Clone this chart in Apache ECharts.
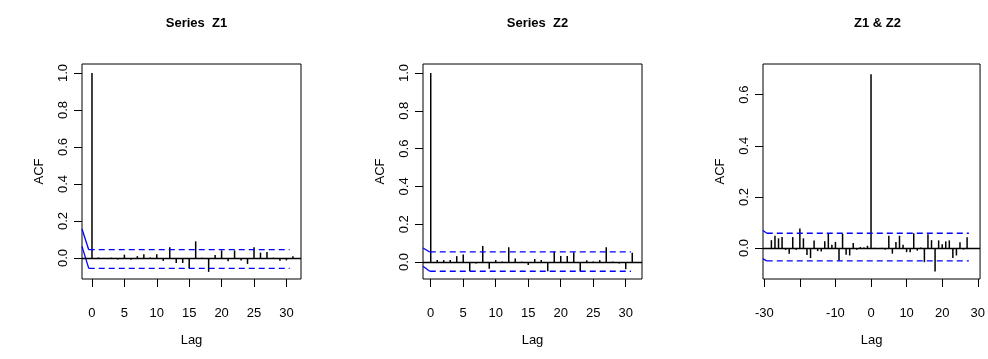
<!DOCTYPE html>
<html>
<head>
<meta charset="utf-8">
<title>ACF of Z1 and Z2</title>
<script src="https://cdn.jsdelivr.net/npm/echarts@6/dist/echarts.min.js"></script>
<style>
  html, body { margin: 0; padding: 0; background: #fff; }
  #chart { width: 988px; height: 359px; }
</style>
</head>
<body>
<div id="chart"></div>
<script>
// Autocorrelation of Z1 and Z2 (lags 0..31) and cross-correlation Z1 & Z2 (lags -28..28)
const lagsZ1 = Array.from({ length: 32 }, (_, i) => i);
const acfZ1 = [1.0, 0.003, -0.004, 0.002, -0.008, 0.018, -0.010, 0.010, 0.020, 0.003,
  0.020, -0.016, 0.058, -0.027, -0.027, -0.056, 0.090, 0.002, -0.075, 0.016,
  0.041, -0.017, 0.041, -0.013, -0.032, 0.058, 0.029, 0.032, 0.002, -0.015,
  -0.013, 0.009];

const lagsZ2 = Array.from({ length: 32 }, (_, i) => i);
const acfZ2 = [1.0, 0.010, 0.010, 0.010, 0.031, 0.040, -0.049, -0.008, 0.085, -0.036,
  0.010, 0.002, 0.078, 0.018, 0.002, -0.016, 0.016, 0.010, -0.049, 0.055,
  0.032, 0.032, 0.051, -0.049, 0.009, 0.002, 0.010, 0.078, 0.002, -0.008,
  -0.038, 0.049];

const lagsZ12 = Array.from({ length: 57 }, (_, i) => i - 28);
const ccfZ12 = [0.031, 0.048, 0.038, 0.043, -0.007, -0.022, 0.043, -0.007, 0.077, 0.038,
  -0.027, -0.039, 0.030, -0.012, -0.013, 0.027, 0.057, 0.013, 0.024, -0.050,
  0.056, -0.026, -0.029, 0.020, -0.007, 0.004, 0.002, 0.009,
  0.680,
  0.001, -0.001, 0.001, -0.006, 0.048, -0.022, 0.024, 0.048, 0.013, -0.016,
  -0.016, 0.058, -0.010, 0.002, -0.055, 0.054, 0.031, -0.092, 0.030, 0.015,
  0.026, 0.030, -0.039, -0.029, 0.023, -0.006, 0.042, -0.004];

// Confidence bounds per panel: Z1, Z2, Z1 & Z2
const ciUpper = [0.045, 0.053, 0.058];
const ciLower = [-0.056, -0.049, -0.050];
const ciUpperLead = [0.157, 0.074, 0.069];
const ciLowerLead = [0.063, -0.023, -0.042];
const ciBendLag = [-0.5, -0.15, -29.3];
const ciEndLag = [30.5, 30.8, 27.5];

// Axis extents per panel
const xMin = [-1.54, -1.19, -30.36];
const xMax = [32.25, 32.5, 30.64];
const yMin = [-0.1135, -0.09, -0.121];
const yMax = [1.0486, 1.0476, 0.72];

// Tick positions and labels
const xTicks = [[0, 5, 10, 15, 20, 25, 30], [0, 5, 10, 15, 20, 25, 30], [-30, -20, -10, 0, 10, 20, 30]];
const xTickLabels = [[0, 5, 10, 15, 20, 25, 30], [0, 5, 10, 15, 20, 25, 30], [-30, -10, 0, 10, 20, 30]];
const yTicks = [[0, 0.2, 0.4, 0.6, 0.8, 1.0], [0, 0.2, 0.4, 0.6, 0.8, 1.0], [0, 0.2, 0.4, 0.6]];

const titles = ['Series  Z1', 'Series  Z2', 'Z1 & Z2'];
const gridLeft = [82, 423, 763];
const gridWidth = 219;

const FONT = 'Liberation Sans, Arial, Helvetica, sans-serif';
const panels = [
  { lags: lagsZ1, vals: acfZ1 },
  { lags: lagsZ2, vals: acfZ2 },
  { lags: lagsZ12, vals: ccfZ12 }
];

const grid = [], xAxis = [], yAxis = [], series = [], title = [];

panels.forEach((p, i) => {
  grid.push({
    left: gridLeft[i], top: 64, width: gridWidth, height: 215,
    show: true, borderColor: '#000', borderWidth: 1, backgroundColor: 'transparent'
  });
  title.push({
    text: titles[i],
    left: gridLeft[i] + gridWidth / 2,
    top: 12,
    textAlign: 'center',
    textStyle: { fontFamily: FONT, fontSize: 13, fontWeight: 'bold', color: '#000' }
  });
  xAxis.push({
    type: 'value', gridIndex: i, min: xMin[i], max: xMax[i],
    position: 'bottom',
    name: 'Lag', nameLocation: 'middle', nameGap: 55,
    nameTextStyle: { fontFamily: FONT, fontSize: 13, color: '#000' },
    axisLine: { show: false, onZero: false },
    splitLine: { show: false },
    axisTick: { show: true, length: 8, customValues: xTicks[i], lineStyle: { color: '#000', width: 1 } },
    axisLabel: {
      customValues: xTickLabels[i], margin: 28, color: '#000',
      fontFamily: FONT, fontSize: 13
    }
  });
  yAxis.push({
    type: 'value', gridIndex: i, min: yMin[i], max: yMax[i],
    position: 'left',
    name: 'ACF', nameLocation: 'middle', nameRotate: 90, nameGap: 36,
    nameTextStyle: { fontFamily: FONT, fontSize: 13, color: '#000' },
    axisLine: { show: false, onZero: false },
    splitLine: { show: false },
    axisTick: { show: true, length: 8, customValues: yTicks[i], lineStyle: { color: '#000', width: 1 } },
    axisLabel: {
      customValues: yTicks[i], rotate: 90, margin: 12, color: '#000',
      fontFamily: FONT, fontSize: 13,
      formatter: v => Number(v).toFixed(1)
    }
  });

  // spikes
  series.push({
    type: 'bar', xAxisIndex: i, yAxisIndex: i,
    data: p.lags.map((l, k) => [l, p.vals[k]]),
    barWidth: 1.5,
    itemStyle: { color: '#000' },
    silent: true,
    markLine: {
      silent: true, symbol: 'none', animation: false,
      label: { show: false },
      lineStyle: { color: '#000', width: 1.3, type: 'solid' },
      data: [{ yAxis: 0 }]
    }
  });

  // confidence bounds: short solid lead-in then dashed level
  [[ciUpperLead[i], ciUpper[i]], [ciLowerLead[i], ciLower[i]]].forEach(([lead, level]) => {
    series.push({
      type: 'line', xAxisIndex: i, yAxisIndex: i, silent: true,
      symbol: 'none', animation: false,
      lineStyle: { color: '#0000ff', width: 1.3, type: 'solid' },
      data: [[xMin[i], lead], [ciBendLag[i], level]]
    });
    series.push({
      type: 'line', xAxisIndex: i, yAxisIndex: i, silent: true,
      symbol: 'none', animation: false,
      lineStyle: { color: '#0000ff', width: 1.3, type: [6, 4] },
      data: [[ciBendLag[i], level], [ciEndLag[i], level]]
    });
  });
});

const chart = echarts.init(document.getElementById('chart'), null, { renderer: 'canvas' });
chart.setOption({
  animation: false,
  backgroundColor: '#fff',
  title, grid, xAxis, yAxis, series
});
</script>
</body>
</html>
